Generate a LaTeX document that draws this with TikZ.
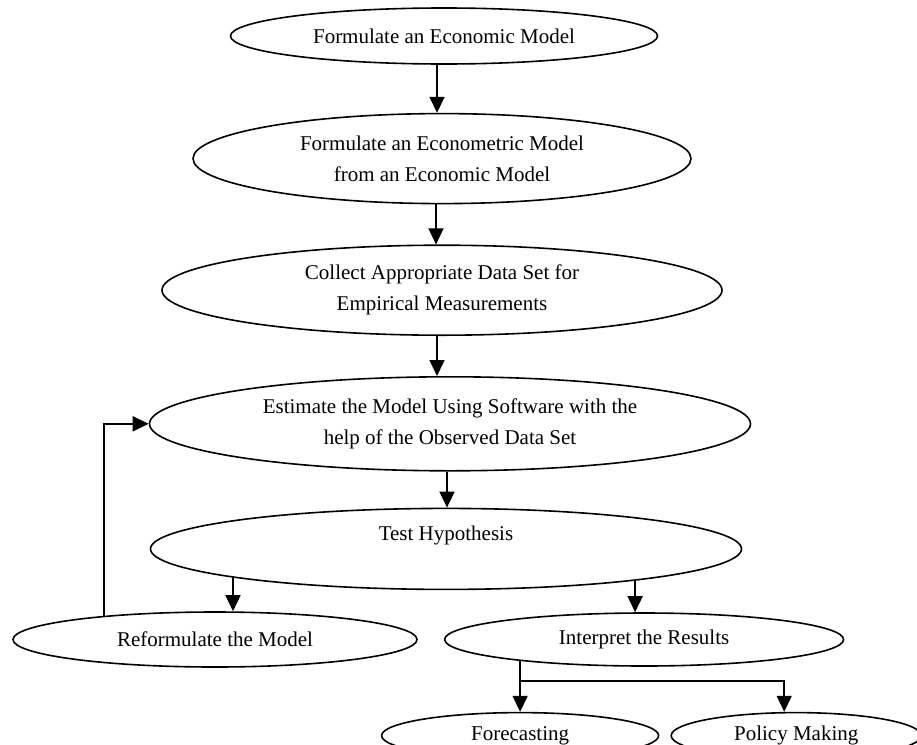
\documentclass[tikz,border=0pt]{standalone}
\usepackage{fontspec}
\setmainfont{Liberation Serif}
\usetikzlibrary{arrows.meta,positioning,shapes.geometric,backgrounds}

\begin{document}
\begin{tikzpicture}[x=1pt,y=-1pt,>={Triangle[length=16pt,width=15pt]},
 stage/.style={draw,ellipse,fill=white,line width=1.6pt,inner sep=0pt,align=center,font=\fontsize{21}{31}\selectfont},
 flow/.style={->,line width=1.6pt}]
\useasboundingbox (0,0) rectangle (917,744);
\clip (0,0) rectangle (917,744);
% main chain
\node[stage,minimum width=427pt,minimum height=56pt](econ) at (444,36){Formulate an Economic Model};
\node[stage,minimum width=498pt,minimum height=90pt,below=48pt of econ,xshift=-2pt](metric){Formulate an Econometric Model\\from an Economic Model};
\node[stage,minimum width=560pt,minimum height=90pt,below=40pt of metric](data){Collect Appropriate Data Set for\\Empirical Measurements};
\node[stage,minimum width=601pt,minimum height=94pt,below=40pt of data,xshift=8pt](estim){Estimate the Model Using Software with the\\help of the Observed Data Set};
\node[stage,minimum width=591pt,minimum height=81pt,below=36pt of estim,xshift=-4pt](test){Test Hypothesis\\\mbox{}};
% outcomes
\node[stage,minimum width=404pt,minimum height=55pt,below=21pt of test.south,anchor=north,xshift=-231pt](reform){Reformulate the Model};
\node[stage,minimum width=399pt,minimum height=53pt,right=26pt of reform](interp){Interpret the Results};
\node[stage,minimum width=277pt,minimum height=46pt,below=45pt of interp.south,anchor=north,xshift=-124pt](fore){Forecasting};
\node[stage,minimum width=250pt,minimum height=46pt,right=11pt of fore](policy){Policy Making};
\begin{scope}[on background layer]
\draw[flow]([xshift=-7pt]econ.south)--([xshift=-7pt]econ.south |- metric.north);
\draw[flow]([xshift=-6pt]metric.south)--([xshift=-6pt]metric.south |- data.north);
\draw[flow]([xshift=-5pt]data.south)--([xshift=-5pt]data.south |- estim.north);
\draw[flow]([xshift=-3pt]estim.south)--([xshift=-3pt]estim.south |- test.north);
\coordinate(toreform) at ([xshift=18pt]reform.north);
\coordinate(tointerp) at ([xshift=-9pt]interp.north);
\draw[flow](test.center -| toreform)--(toreform);
\draw[flow](test.center -| tointerp)--(tointerp);
% back to estimation
\coordinate(loop) at ([xshift=-111pt]reform.center);
\draw[flow](loop)|-(estim.west);
\coordinate(split) at ([yshift=31pt]fore.north);
\coordinate(topolicy) at ([xshift=-12pt]policy.north);
\draw[flow](interp.center -| split)--(fore.north);
\draw[flow](split)-|(topolicy);
\end{scope}
\end{tikzpicture}
\end{document}
